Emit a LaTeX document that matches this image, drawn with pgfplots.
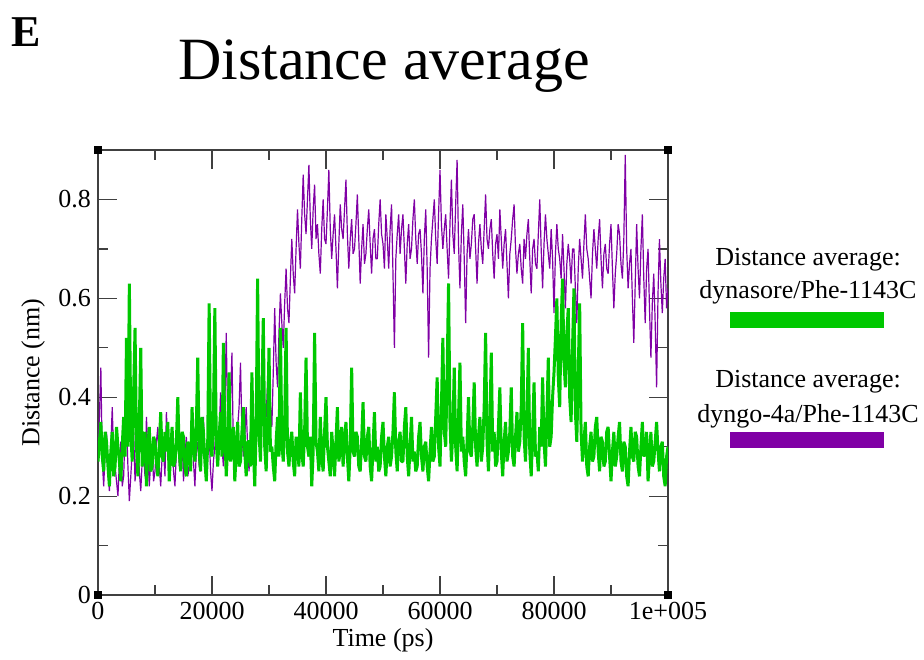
\documentclass[border=0pt]{standalone}
\usepackage{fontspec}
\setmainfont{Liberation Serif}
\usepackage{pgfplots}
\usepackage{pgfplotstable}
\pgfplotsset{compat=1.18}

\definecolor{dgreen}{RGB}{0,200,0}
\definecolor{dpurple}{RGB}{128,0,165}

% dynasore/Phe-1143C
\pgfplotstableread{
t d
0 0.27
250 0.31
500 0.35
750 0.28
1000 0.25
1250 0.33
1500 0.31
1750 0.26
2000 0.22
2250 0.29
2500 0.33
2750 0.24
3000 0.26
3250 0.34
3500 0.30
3750 0.27
4000 0.23
4250 0.30
4500 0.36
4750 0.28
5000 0.52
5250 0.30
5500 0.63
5750 0.33
6000 0.27
6250 0.41
6500 0.54
6750 0.30
7000 0.24
7250 0.35
7500 0.50
7750 0.26
8000 0.29
8250 0.33
8500 0.22
8750 0.30
9000 0.34
9250 0.25
9500 0.26
9750 0.32
10000 0.31
10250 0.27
10500 0.24
10750 0.30
11000 0.37
11250 0.28
11500 0.27
11750 0.33
12000 0.29
12250 0.35
12500 0.23
12750 0.29
13000 0.34
13250 0.26
13500 0.27
13750 0.31
14000 0.40
14250 0.29
14500 0.25
14750 0.33
15000 0.32
15250 0.26
15500 0.24
15750 0.31
16000 0.30
16250 0.25
16500 0.38
16750 0.30
17000 0.27
17250 0.34
17500 0.48
17750 0.29
18000 0.25
18250 0.36
18500 0.33
18750 0.27
19000 0.23
19250 0.31
19500 0.59
19750 0.30
20000 0.28
20250 0.36
20500 0.58
20750 0.31
21000 0.26
21250 0.32
21500 0.37
21750 0.28
22000 0.51
22250 0.33
22500 0.24
22750 0.30
23000 0.45
23250 0.27
23500 0.30
23750 0.34
24000 0.23
24250 0.29
24500 0.35
24750 0.26
25000 0.27
25250 0.33
25500 0.38
25750 0.29
26000 0.24
26250 0.31
26500 0.31
26750 0.26
27000 0.45
27250 0.30
27500 0.22
27750 0.34
28000 0.64
28250 0.33
28500 0.27
28750 0.40
29000 0.56
29250 0.30
29500 0.25
29750 0.34
30000 0.50
30250 0.29
30500 0.30
30750 0.26
31000 0.23
31250 0.31
31500 0.36
31750 0.28
32000 0.54
32250 0.31
32500 0.27
32750 0.35
33000 0.54
33250 0.29
33500 0.26
33750 0.31
34000 0.33
34250 0.27
34500 0.24
34750 0.32
35000 0.30
35250 0.26
35500 0.41
35750 0.29
36000 0.26
36250 0.33
36500 0.48
36750 0.30
37000 0.28
37250 0.32
37500 0.22
37750 0.29
38000 0.53
38250 0.31
38500 0.29
38750 0.25
39000 0.36
39250 0.28
39500 0.25
39750 0.33
40000 0.40
40250 0.30
40500 0.27
40750 0.24
41000 0.33
41250 0.29
41500 0.24
41750 0.31
42000 0.38
42250 0.27
42500 0.29
42750 0.34
43000 0.26
43250 0.31
43500 0.35
43750 0.28
44000 0.23
44250 0.30
44500 0.46
44750 0.29
45000 0.28
45250 0.33
45500 0.32
45750 0.26
46000 0.25
46250 0.31
46500 0.39
46750 0.28
47000 0.27
47250 0.32
47500 0.34
47750 0.26
48000 0.23
48250 0.30
48500 0.37
48750 0.27
49000 0.30
49250 0.25
49500 0.26
49750 0.32
50000 0.35
50250 0.28
50500 0.24
50750 0.30
51000 0.32
51250 0.26
51500 0.28
51750 0.33
52000 0.41
52250 0.29
52500 0.25
52750 0.31
53000 0.33
53250 0.27
53500 0.27
53750 0.34
54000 0.38
54250 0.28
54500 0.24
54750 0.30
55000 0.36
55250 0.27
55500 0.29
55750 0.25
56000 0.26
56250 0.32
56500 0.35
56750 0.28
57000 0.25
57250 0.30
57500 0.31
57750 0.26
58000 0.23
58250 0.29
58500 0.34
58750 0.27
59000 0.28
59250 0.36
59500 0.44
59750 0.30
60000 0.26
60250 0.38
60500 0.52
60750 0.33
61000 0.30
61250 0.45
61500 0.63
61750 0.35
62000 0.27
62250 0.33
62500 0.46
62750 0.30
63000 0.25
63250 0.36
63500 0.47
63750 0.29
64000 0.32
64250 0.27
64500 0.24
64750 0.31
65000 0.40
65250 0.29
65500 0.28
65750 0.34
66000 0.43
66250 0.30
66500 0.26
66750 0.32
67000 0.36
67250 0.27
67500 0.30
67750 0.38
68000 0.53
68250 0.31
68500 0.25
68750 0.35
69000 0.49
69250 0.29
69500 0.33
69750 0.26
70000 0.27
70250 0.34
70500 0.42
70750 0.29
71000 0.24
71250 0.31
71500 0.35
71750 0.27
72000 0.29
72250 0.33
72500 0.42
72750 0.28
73000 0.26
73250 0.32
73500 0.37
73750 0.29
74000 0.31
74250 0.38
74500 0.55
74750 0.32
75000 0.27
75250 0.36
75500 0.50
75750 0.29
76000 0.24
76250 0.33
76500 0.43
76750 0.28
77000 0.29
77250 0.25
77500 0.34
77750 0.30
78000 0.44
78250 0.31
78500 0.26
78750 0.36
79000 0.48
79250 0.30
79500 0.32
79750 0.40
80000 0.45
80250 0.52
80500 0.60
80750 0.44
81000 0.38
81250 0.55
81500 0.64
81750 0.47
82000 0.42
82250 0.53
82500 0.58
82750 0.40
83000 0.35
83250 0.50
83500 0.62
83750 0.37
84000 0.31
84250 0.45
84500 0.59
84750 0.33
85000 0.27
85250 0.31
85500 0.35
85750 0.26
86000 0.24
86250 0.30
86500 0.33
86750 0.27
87000 0.28
87250 0.34
87500 0.36
87750 0.29
88000 0.25
88250 0.32
88500 0.31
88750 0.26
89000 0.27
89250 0.33
89500 0.34
89750 0.28
90000 0.23
90250 0.29
90500 0.33
90750 0.26
91000 0.28
91250 0.32
91500 0.35
91750 0.27
92000 0.25
92250 0.31
92500 0.30
92750 0.24
93000 0.22
93250 0.29
93500 0.34
93750 0.28
94000 0.27
94250 0.33
94500 0.32
94750 0.26
95000 0.24
95250 0.30
95500 0.35
95750 0.28
96000 0.29
96250 0.33
96500 0.23
96750 0.28
97000 0.33
97250 0.26
97500 0.27
97750 0.31
98000 0.35
98250 0.29
98500 0.25
98750 0.30
99000 0.31
99250 0.24
99500 0.22
99750 0.28
100000 0.30
}\dynasore

% dyngo-4a/Phe-1143C
\pgfplotstableread{
t d
0 0.30
250 0.36
500 0.46
750 0.27
1000 0.22
1250 0.29
1500 0.33
1750 0.25
2000 0.21
2250 0.30
2500 0.38
2750 0.28
3000 0.26
3250 0.23
3500 0.20
3750 0.27
4000 0.31
4250 0.22
4500 0.24
4750 0.33
5000 0.35
5250 0.26
5500 0.19
5750 0.24
6000 0.29
6250 0.33
6500 0.23
6750 0.28
7000 0.33
7250 0.25
7500 0.21
7750 0.27
8000 0.28
8250 0.24
8500 0.36
8750 0.29
9000 0.22
9250 0.27
9500 0.30
9750 0.23
10000 0.25
10250 0.31
10500 0.34
10750 0.26
11000 0.22
11250 0.28
11500 0.29
11750 0.24
12000 0.37
12250 0.30
12500 0.24
12750 0.27
13000 0.31
13250 0.25
13500 0.22
13750 0.29
14000 0.35
14250 0.26
14500 0.27
14750 0.32
15000 0.23
15250 0.28
15500 0.32
15750 0.24
16000 0.26
16250 0.31
16500 0.38
16750 0.27
17000 0.22
17250 0.29
17500 0.31
17750 0.26
18000 0.25
18250 0.30
18500 0.36
18750 0.28
19000 0.24
19250 0.29
19500 0.33
19750 0.25
20000 0.21
20250 0.27
20500 0.30
20750 0.35
21000 0.27
21250 0.32
21500 0.41
21750 0.30
22000 0.26
22250 0.38
22500 0.53
22750 0.35
23000 0.31
23250 0.40
23500 0.49
23750 0.29
24000 0.24
24250 0.30
24500 0.34
24750 0.38
25000 0.47
25250 0.33
25500 0.28
25750 0.32
26000 0.38
26250 0.30
26500 0.25
26750 0.33
27000 0.40
27250 0.34
27500 0.31
27750 0.38
28000 0.46
28250 0.36
28500 0.29
28750 0.41
29000 0.50
29250 0.39
29500 0.36
29750 0.43
30000 0.47
30250 0.38
30500 0.34
30750 0.45
31000 0.58
31250 0.47
31500 0.42
31750 0.53
32000 0.61
32250 0.55
32500 0.50
32750 0.59
33000 0.66
33250 0.58
33500 0.55
33750 0.64
34000 0.72
34250 0.65
34500 0.61
34750 0.70
35000 0.78
35250 0.71
35500 0.66
35750 0.76
36000 0.85
36250 0.77
36500 0.73
36750 0.80
37000 0.87
37250 0.76
37500 0.70
37750 0.78
38000 0.83
38250 0.72
38500 0.75
38750 0.69
39000 0.65
39250 0.74
39500 0.80
39750 0.72
40000 0.71
40250 0.78
40500 0.86
40750 0.74
41000 0.68
41250 0.73
41500 0.77
41750 0.70
42000 0.62
42250 0.71
42500 0.79
42750 0.74
43000 0.72
43250 0.78
43500 0.84
43750 0.73
44000 0.66
44250 0.72
44500 0.76
44750 0.69
45000 0.70
45250 0.75
45500 0.81
45750 0.72
46000 0.63
46250 0.70
46500 0.75
46750 0.67
47000 0.69
47250 0.74
47500 0.78
47750 0.71
48000 0.65
48250 0.72
48500 0.74
48750 0.68
49000 0.68
49250 0.75
49500 0.80
49750 0.73
50000 0.71
50250 0.66
50500 0.77
50750 0.72
51000 0.66
51250 0.74
51500 0.79
51750 0.65
52000 0.50
52250 0.68
52500 0.73
52750 0.77
53000 0.69
53250 0.74
53500 0.77
53750 0.70
54000 0.63
54250 0.71
54500 0.75
54750 0.68
55000 0.70
55250 0.76
55500 0.80
55750 0.72
56000 0.67
56250 0.73
56500 0.74
56750 0.69
57000 0.61
57250 0.72
57500 0.78
57750 0.66
58000 0.48
58250 0.66
58500 0.72
58750 0.76
59000 0.80
59250 0.72
59500 0.67
59750 0.77
60000 0.86
60250 0.75
60500 0.70
60750 0.74
61000 0.77
61250 0.70
61500 0.64
61750 0.75
62000 0.84
62250 0.73
62500 0.69
62750 0.79
63000 0.88
63250 0.71
63500 0.62
63750 0.73
64000 0.79
64250 0.68
64500 0.55
64750 0.69
65000 0.74
65250 0.68
65500 0.71
65750 0.76
66000 0.77
66250 0.70
66500 0.63
66750 0.71
67000 0.75
67250 0.70
67500 0.67
67750 0.74
68000 0.81
68250 0.72
68500 0.70
68750 0.74
69000 0.76
69250 0.69
69500 0.64
69750 0.71
70000 0.73
70250 0.68
70500 0.78
70750 0.72
71000 0.66
71250 0.71
71500 0.74
71750 0.67
72000 0.60
72250 0.69
72500 0.72
72750 0.76
73000 0.79
73250 0.70
73500 0.65
73750 0.69
74000 0.71
74250 0.66
74500 0.63
74750 0.72
75000 0.68
75250 0.73
75500 0.76
75750 0.68
76000 0.61
76250 0.70
76500 0.72
76750 0.67
77000 0.66
77250 0.73
77500 0.80
77750 0.70
78000 0.62
78250 0.71
78500 0.77
78750 0.72
79000 0.69
79250 0.66
79500 0.74
79750 0.68
80000 0.57
80250 0.69
80500 0.75
80750 0.70
81000 0.68
81250 0.64
81500 0.73
81750 0.66
82000 0.58
82250 0.67
82500 0.71
82750 0.68
83000 0.63
83250 0.70
83500 0.70
83750 0.62
84000 0.55
84250 0.66
84500 0.72
84750 0.68
85000 0.64
85250 0.71
85500 0.77
85750 0.70
86000 0.68
86250 0.64
86500 0.60
86750 0.69
87000 0.74
87250 0.70
87500 0.66
87750 0.72
88000 0.76
88250 0.68
88500 0.62
88750 0.69
89000 0.71
89250 0.66
89500 0.65
89750 0.71
90000 0.75
90250 0.66
90500 0.58
90750 0.65
91000 0.69
91250 0.75
91500 0.73
91750 0.67
92000 0.64
92250 0.72
92500 0.89
92750 0.70
93000 0.62
93250 0.67
93500 0.70
93750 0.60
94000 0.51
94250 0.63
94500 0.75
94750 0.66
95000 0.60
95250 0.70
95500 0.77
95750 0.64
96000 0.55
96250 0.66
96500 0.70
96750 0.58
97000 0.48
97250 0.59
97500 0.65
97750 0.55
98000 0.42
98250 0.61
98500 0.72
98750 0.63
99000 0.57
99250 0.64
99500 0.68
99750 0.58
100000 0.62
}\dyngo

\begin{document}
\begin{tikzpicture}
\path[use as bounding box] (-49pt,-32pt) rectangle (413pt,297.5pt);

\begin{axis}[
  scale only axis, width=285pt, height=222.5pt,
  at={(0pt,0pt)}, anchor=south west,
  xmin=0, xmax=100000, ymin=0, ymax=0.9,
  xtick={0,20000,40000,60000,80000,100000},
  xticklabels={0,20000,40000,60000,80000,1e+005},
  ytick={0,0.2,0.4,0.6,0.8},
  yticklabels={0,0.2,0.4,0.6,0.8},
  minor x tick num=1, minor y tick num=1,
  scaled x ticks=false,
  tick align=inside,
  major tick length=9.5pt, minor tick length=5pt,
  tick style={black!75, line width=0.6pt},
  axis line style={black!75, line width=0.6pt},
  tick label style={font=\fontsize{13}{13}\selectfont},
  xlabel={Time (ps)}, ylabel={Distance (nm)},
  label style={font=\fontsize{13}{13}\selectfont},
  x label style={at={(axis description cs:0.5,-0.101)}, anchor=center},
  y label style={at={(axis description cs:-0.114,0.5)}, anchor=center},
  clip=true,
]
\addplot[dpurple, line width=0.6pt, line join=bevel] table[x=t,y=d] {\dyngo};
\addplot[dgreen, line width=1.5pt, line join=bevel] table[x=t,y=d] {\dynasore};
\end{axis}

% corner handles
\foreach \cx/\cy in {0/0, 285/0, 0/222.5, 285/222.5}
  \fill[black] (\cx pt-1.8pt,\cy pt-1.8pt) rectangle ++(3.6pt,3.6pt);

% panel letter and title
\node[font=\fontsize{22}{22}\selectfont\bfseries] at (-36pt,281.5pt) {E};
\node[anchor=base, font=\fontsize{30}{30}\selectfont] at (143pt,257.5pt) {Distance average};

% legend
\node[anchor=base, font=\fontsize{13}{13}\selectfont] at (355pt,165pt) {Distance average:};
\node[anchor=base, font=\fontsize{13}{13}\selectfont] at (355pt,148.5pt) {dynasore/Phe-1143C};
\draw[dgreen, line width=8pt] (316pt,137.5pt) -- (393pt,137.5pt);
\node[anchor=base, font=\fontsize{13}{13}\selectfont] at (355pt,104pt) {Distance average:};
\node[anchor=base, font=\fontsize{13}{13}\selectfont] at (355pt,86.5pt) {dyngo-4a/Phe-1143C};
\draw[dpurple, line width=8pt] (316pt,77.5pt) -- (393pt,77.5pt);
\end{tikzpicture}
\end{document}
